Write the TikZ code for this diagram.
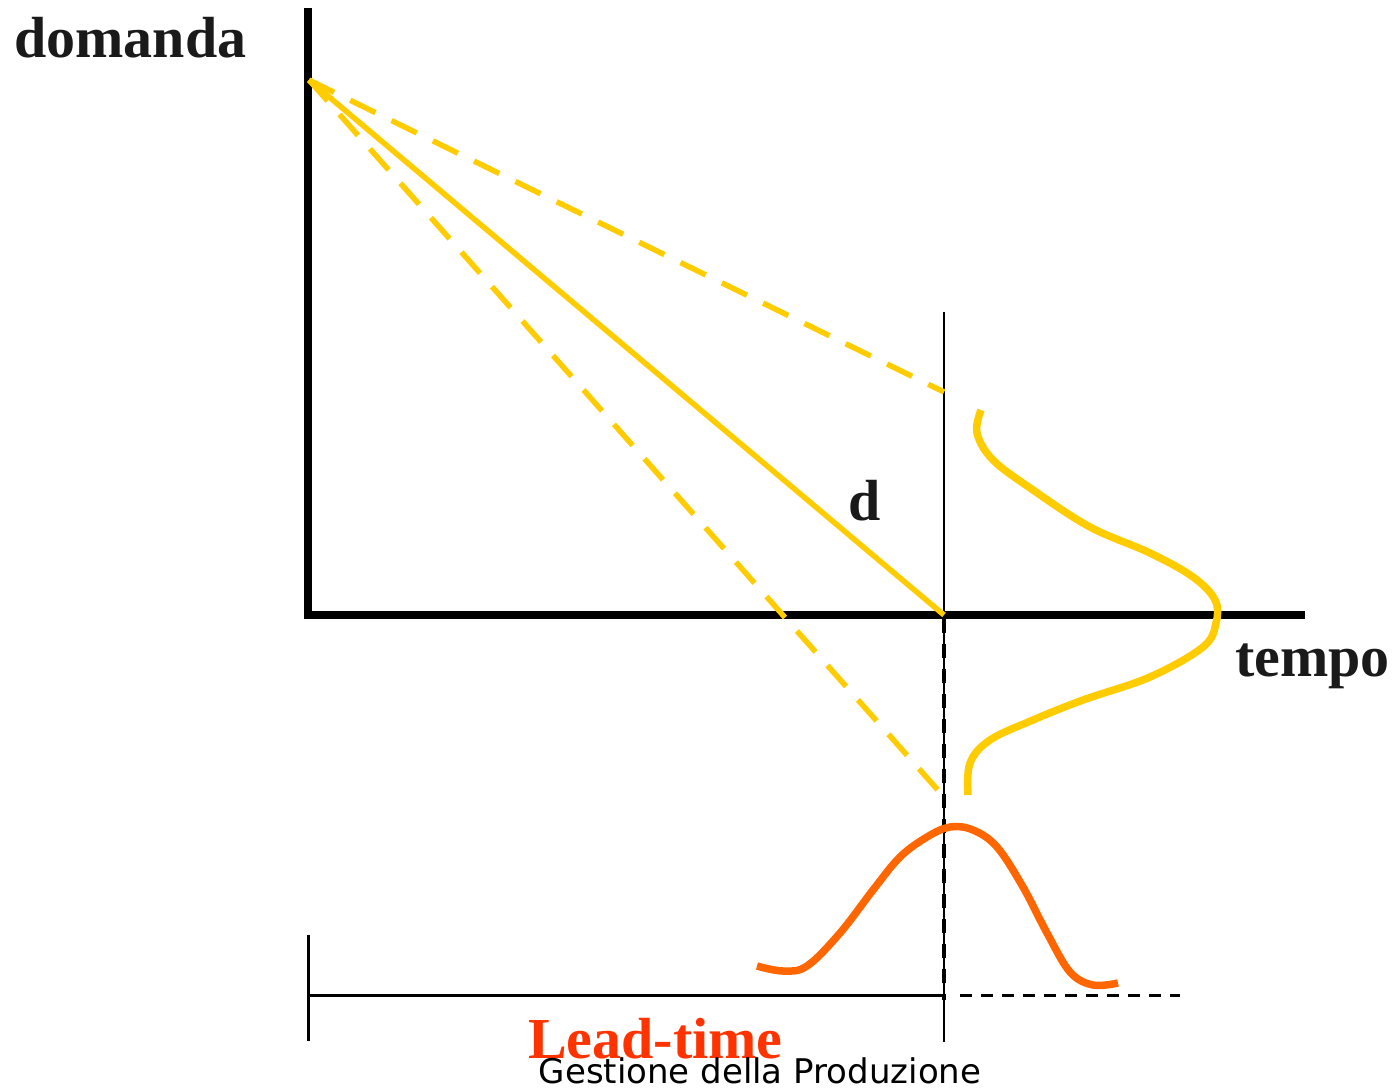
\documentclass[tikz,border=0pt]{standalone}
\usepackage{fontspec}
\setmainfont{Liberation Serif}
\newfontfamily\footfont{DejaVu Sans}
\definecolor{ayellow}{HTML}{FFCC00}
\definecolor{aorange}{HTML}{FF6600}
\definecolor{ared}{HTML}{FF3300}
\definecolor{atext}{HTML}{1A1A1A}
\begin{document}
\begin{tikzpicture}[x=1pt,y=-1pt,
  axis/.style={line width=7.5pt,black},
  thin/.style={line width=2.5pt,black},
  ysolid/.style={line width=5.5pt,ayellow},
  ydash/.style={line width=5.5pt,ayellow,dash pattern=on 28pt off 18pt},
  kdash/.style={line width=4pt,black,dash pattern=on 14pt off 11pt},
  hdash/.style={line width=3pt,black,dash pattern=on 12pt off 9pt},
  bigtxt/.style={inner sep=0pt,font=\fontsize{58}{60}\selectfont\bfseries,text=atext},
  curve/.style={line width=7.5pt}]
\useasboundingbox (0,0) rectangle (1395,1090);
% axes
\coordinate (ytop) at (308,8);
\coordinate (ybot) at (308,618.7);
\coordinate (xl) at (304.3,615);
\coordinate (xr) at (1305,615);
\draw[axis] (ytop) -- (ybot);
\draw[axis] (xl) -- (xr);
% vertical reference line
\coordinate (vtop) at (944,312);
\coordinate (vbot) at (944,1042);
\coordinate (vmid) at (944,619);
\coordinate (vdend) at (944,1000);
\draw[thin] (vtop) -- (vbot);
\draw[kdash] (vmid) -- (vdend);
% yellow lines
\coordinate (apex) at (309,80);
\coordinate (dmean) at (944,615);
\coordinate (dhigh) at (944,392);
\coordinate (dlow) at (944,797);
\draw[ysolid] (apex) -- (dmean);
\draw[ydash] (apex) -- (dhigh);
\draw[ydash] (apex) -- (dlow);
% yellow sideways bell
\draw[curve,ayellow] plot[smooth,tension=0.6] coordinates {
 (981,410) (977,433) (993,460) (1033,490) (1090,527) (1150,553) (1193,577)
 (1215,600) (1216,623) (1203,647) (1150,677) (1083,700) (1033,720) (990,740)
 (970,763) (968,795)};
% orange bell
\draw[curve,aorange] plot[smooth,tension=0.6] coordinates {
 (757,966) (783,971) (807,966) (840,933) (873,890) (900,857) (927,837)
 (950,827) (973,830) (997,847) (1023,887) (1047,933) (1070,972) (1093,985) (1118,983)};
% lead time bar
\coordinate (ltop) at (308,935);
\coordinate (lbot) at (308,1041);
\coordinate (lh) at (308,995);
\coordinate (rh) at (944,995);
\coordinate (dh1) at (960,995);
\coordinate (dh2) at (1180,995);
\draw[thin,line width=3pt] (ltop) -- (lbot);
\draw[thin,line width=3pt] (lh) -- (rh);
\draw[hdash] (dh1) -- (dh2);
% labels
\node[bigtxt,anchor=base west] (domanda) at (14,57) {domanda};
\node[bigtxt,anchor=base west] (tempo) at (1235,676) {tempo};
\node[bigtxt,anchor=base west] (dlab) at (848,520) {d};
\node[bigtxt,anchor=base west,text=ared] (lead) at (528,1058) {Lead-time};
\node[inner sep=0pt,anchor=base,font=\footfont\fontsize{34}{36}\selectfont,text=black] (foot) at (760,1083) {Gestione della Produzione};
\end{tikzpicture}
\end{document}
